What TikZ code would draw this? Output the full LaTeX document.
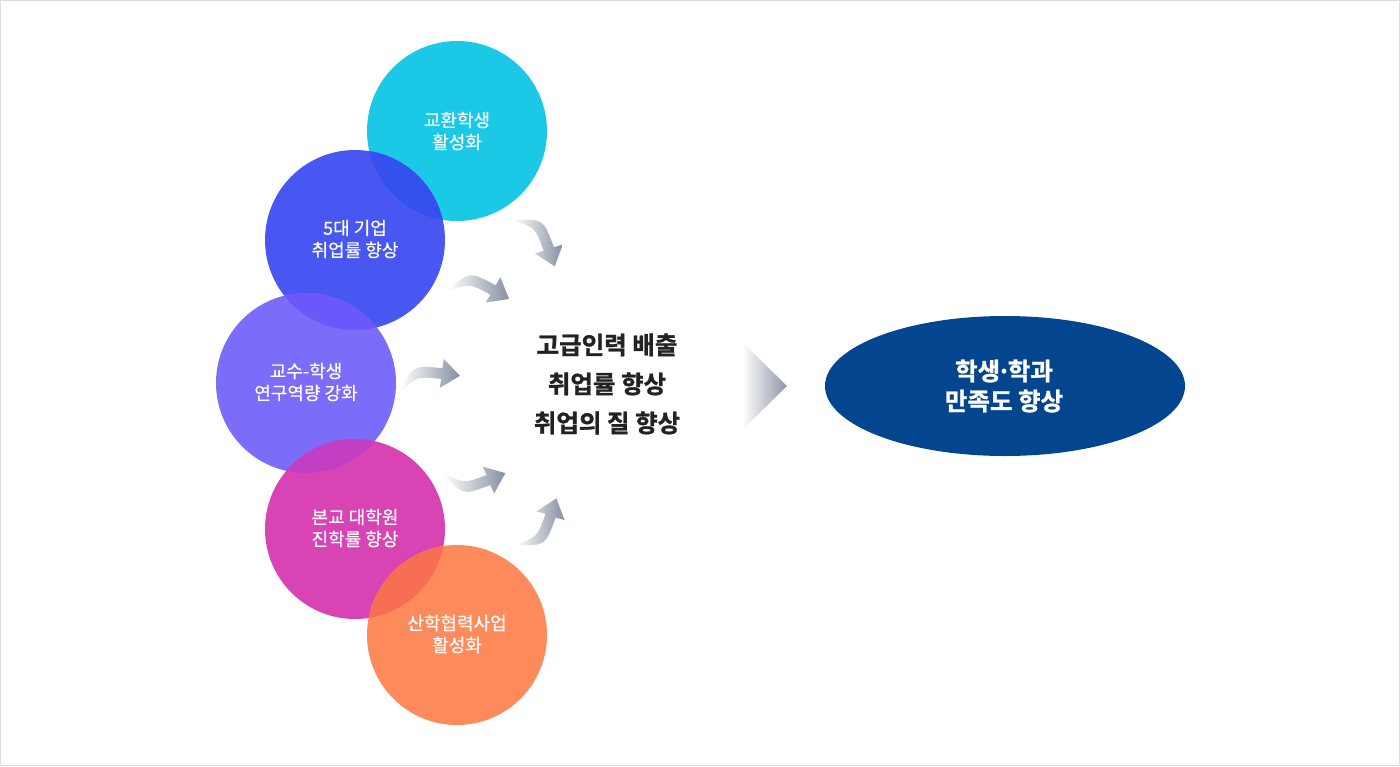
\documentclass[tikz,border=0pt]{standalone}
\usepackage{fontspec}
\newfontfamily\kr{Noto Sans CJK KR}
\newfontfamily\krm[FakeBold=0.5]{Noto Sans CJK KR}
\newfontfamily\krb[FakeBold=1.2]{Noto Sans CJK KR Bold}
\definecolor{ccyan}{HTML}{1BC8E6}
\definecolor{cblue}{HTML}{4857F2}
\definecolor{cpurple}{HTML}{7C6CFA}
\definecolor{cmagenta}{HTML}{D944B5}
\definecolor{corange}{HTML}{FF8A5B}
\definecolor{ovbc}{HTML}{3451EE}
\definecolor{ovpb}{HTML}{6A58FA}
\definecolor{ovmp}{HTML}{C23EC2}
\definecolor{ovom}{HTML}{F86E52}
\definecolor{cnavy}{HTML}{03458F}
\definecolor{arrowgray}{HTML}{868FA2}
\definecolor{trigray}{HTML}{8E95A6}
\definecolor{txtdark}{HTML}{222222}
\definecolor{framegray}{HTML}{DDDDDD}
\newcommand\arrowshape{(0,0) .. controls (22,-21) .. (48.5,-6.8) -- (53.5,-14.6) -- (62,7) -- (38.5,10.6) -- (43.5,2.8) .. controls (22,-9) .. (0,0) -- cycle}
\tikzset{
  bubbletext/.style={align=center, text=white, font=\krm\fontsize{18}{22}\selectfont},
  flowarrow/.style={left color=white, right color=arrowgray},
}
\begin{document}
\begin{tikzpicture}[x=1pt,y=-1pt]
\useasboundingbox (0,0) rectangle (1400,766);
\draw[framegray, line width=1pt] (0.5,0.5) rectangle (1399.5,765.5);
% circles
\fill[ccyan] (457,131) circle (90);
\fill[cblue] (355,240) circle (90);
\begin{scope}
  \clip (457,131) circle (90);
  \fill[ovbc] (355,240) circle (90);
\end{scope}
\fill[cpurple] (306,383) circle (90);
\begin{scope}
  \clip (355,240) circle (90);
  \fill[ovpb] (306,383) circle (90);
\end{scope}
\fill[cmagenta] (355,529) circle (90);
\begin{scope}
  \clip (306,383) circle (90);
  \fill[ovmp] (355,529) circle (90);
\end{scope}
\fill[corange] (457,635) circle (90);
\begin{scope}
  \clip (355,529) circle (90);
  \fill[ovom] (457,635) circle (90);
\end{scope}
% circle labels
\node[bubbletext] (c1) at (457,131) {교환학생\\활성화};
\node[bubbletext] (c2) at (355,239) {5대 기업\\취업률 향상};
\node[bubbletext] (c3) at (306,382) {교수-학생\\연구역량 강화};
\node[bubbletext] (c4) at (355,528) {본교 대학원\\진학률 향상};
\node[bubbletext] (c5) at (457,634) {산학협력사업\\활성화};
% curved arrows
\begin{scope}[shift={(513,220)}, rotate=-41.5]
  \shade[flowarrow] \arrowshape;
\end{scope}
\begin{scope}[shift={(447,292)}]
  \shade[flowarrow] \arrowshape;
\end{scope}
\begin{scope}[shift={(400,393)}, rotate=22.5]
  \shade[flowarrow] \arrowshape;
\end{scope}
\begin{scope}[shift={(443,472)}, rotate=-7.5, yscale=-1]
  \shade[flowarrow] \arrowshape;
\end{scope}
\begin{scope}[shift={(515,545)}, rotate=42, yscale=-1]
  \shade[flowarrow] \arrowshape;
\end{scope}
% center text
\node[align=center, text=txtdark, font=\krb\fontsize{24.5}{39}\selectfont] (mid) at (607,384)
  {고급인력 배출\\취업률 향상\\취업의 질 향상};
% triangle
\coordinate (t1) at (742,342);
\coordinate (t2) at (787,386);
\coordinate (t3) at (742,430);
\shade[left color=white, right color=trigray] (t1) -- (t2) -- (t3) -- cycle;
% ellipse
\fill[cnavy] (1005,386) ellipse [x radius=180, y radius=70];
\node[align=center, text=white, font=\krb\fontsize{24.5}{30}\selectfont] (goal) at (1004,386)
  {학생\hspace{-0.14em}·\hspace{-0.14em}학과\\만족도 향상};
\end{tikzpicture}
\end{document}
